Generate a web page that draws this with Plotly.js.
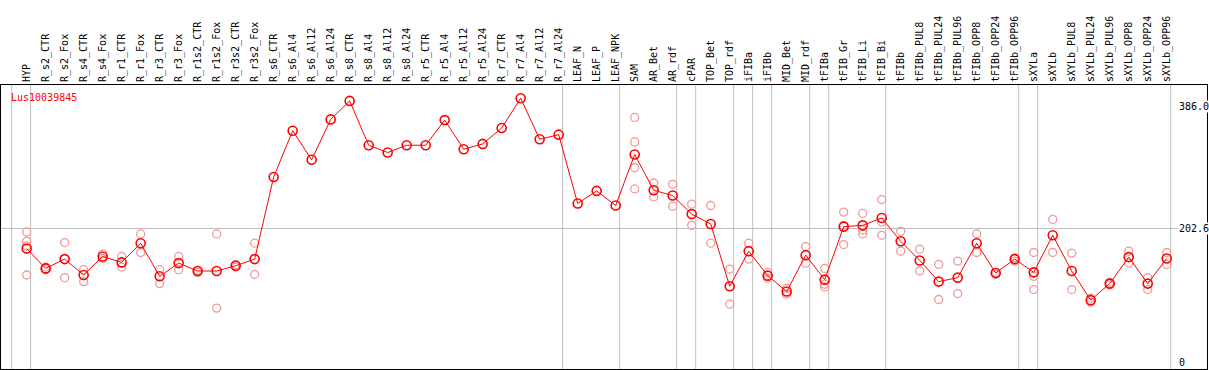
<!DOCTYPE html>
<html>
<head>
<meta charset="utf-8">
<script src="https://cdn.plot.ly/plotly-3.0.1.min.js"></script>
<style>html,body{margin:0;padding:0;background:#fff;}#chart{width:1209px;height:370px;}</style>
</head>
<body>
<div id="chart"></div>
<script>
const categories = ["HYP","R_s2_CTR","R_s2_Fox","R_s4_CTR","R_s4_Fox","R_r1_CTR","R_r1_Fox","R_r3_CTR","R_r3_Fox","R_r1s2_CTR","R_r1s2_Fox","R_r3s2_CTR","R_r3s2_Fox","R_s6_CTR","R_s6_Al4","R_s6_Al12","R_s6_Al24","R_s8_CTR","R_s8_Al4","R_s8_Al12","R_s8_Al24","R_r5_CTR","R_r5_Al4","R_r5_Al12","R_r5_Al24","R_r7_CTR","R_r7_Al4","R_r7_Al12","R_r7_Al24","LEAF_N","LEAF_P","LEAF_NPK","SAM","AR_Bet","AR_rdf","cPAR","TOP_Bet","TOP_rdf","iFIBa","iFIBb","MID_Bet","MID_rdf","tFIBa","tFIB_Gr","tFIB_Li","tFIB_Bi","tFIBb","tFIBb_PUL8","tFIBb_PUL24","tFIBb_PUL96","tFIBb_OPP8","tFIBb_OPP24","tFIBb_OPP96","sXYLa","sXYLb","sXYLb_PUL8","sXYLb_PUL24","sXYLb_PUL96","sXYLb_OPP8","sXYLb_OPP24","sXYLb_OPP96"];

const meanValues = [172,142,156,132,160,151,180,130,150,138,138,146,156,280,350,306,367,395,328,317,328,328,366,322,330,354,399,337,344,240,259,237,314,260,252,224,209,115,168,131,107,162,125,205,207,218,183,154,122,128,180,135,156,136,192,138,94,119,159,119,157];

const repA = [197,144,181,140,164,160,194,140,160,139,194,148,180,null,null,null,null,null,null,null,null,null,null,null,null,null,null,null,null,null,null,null,370,271,269,239,237,141,180,136,112,175,142,227,225,246,198,171,148,153,194,136,158,166,216,165,97,121,168,128,166];
const repB = [183,140,128,122,157,144,166,119,140,136,82,144,133,null,null,null,null,null,null,null,null,null,null,null,null,null,null,null,null,null,null,null,333,250,236,207,180,88,156,127,103,150,118,178,200,212,168,138,95,104,166,133,153,130,166,110,91,117,150,110,148];
const repC = [132,null,null,null,null,null,null,null,null,null,null,null,null,null,null,null,null,null,null,null,null,null,null,null,null,null,null,null,null,null,null,null,294,null,null,null,null,null,null,null,null,null,114,207,194,192,null,null,null,null,null,null,null,110,null,null,null,null,null,null,null];
const repD = [176,null,null,null,null,null,null,null,null,null,null,null,null,null,null,null,null,null,null,null,null,null,null,null,null,null,null,null,null,null,null,null,262,null,null,null,null,null,null,null,null,null,null,null,null,null,null,null,null,null,null,null,null,null,null,null,null,null,null,null,null];

const groupBreaks = [-1,0,28,31,34,35,37,38,39,41,42,45,52,53,60];
const yTickVals = [0,202.6,386.0];
const yTickText = ["0","202.6","386.0"];
const geneName = "Lus10039845";

const idx = categories.map((_, i) => i);
const repX = [], repY = [];
[repA, repB, repC, repD].forEach(arr => arr.forEach((v, i) => { if (v !== null) { repX.push(i); repY.push(v); } }));

const FONT = "DejaVu Sans Mono, Liberation Mono, monospace";

const traces = [
  {x: repX, y: repY, type: "scatter", mode: "markers", hoverinfo: "skip",
   marker: {symbol: "circle-open", size: 8, color: "#ee9a9a", line: {width: 1.3, color: "#ee9a9a"}}},
  {x: idx, y: meanValues, type: "scatter", mode: "lines+markers",
   line: {color: "#ff0000", width: 1},
   marker: {symbol: "circle-open", size: 9, color: "#ff0000", line: {width: 1.6, color: "#ff0000"}}}
];

const shapes = groupBreaks.map(b => ({type: "line", xref: "x", yref: "paper", x0: b + 0.21, x1: b + 0.21, y0: 0, y1: 1, line: {color: "#c0c0c0", width: 1}, layer: "below"}));

const annotations = yTickVals.map((v, k) => ({xref: "paper", yref: "y", x: (1178 - 1) / 1206, y: v, xanchor: "left", yanchor: "middle", showarrow: false, text: yTickText[k], font: {family: FONT, size: 10, color: "#000"}, bgcolor: "#ffffff", borderpad: 0}));
annotations.push({xref: "paper", yref: "paper", x: 8 / 1206, y: (369 - 97) / 284, xanchor: "left", yanchor: "middle", showarrow: false, text: geneName, font: {family: FONT, size: 10, color: "#ff0000"}});

const layout = {
  width: 1209, height: 370,
  margin: {l: 1, r: 2, t: 85, b: 1, pad: 0},
  paper_bgcolor: "#ffffff", plot_bgcolor: "#ffffff",
  showlegend: false,
  xaxis: {range: [-1.35, 62.12], side: "top", tickmode: "array", tickvals: idx, ticktext: categories,
          tickangle: -90, tickfont: {family: FONT, size: 10, color: "#000"}, ticks: "", showgrid: false, zeroline: false,
          showline: true, mirror: true, linecolor: "#000", linewidth: 1, fixedrange: true},
  yaxis: {range: [-10, 419], tickmode: "array", tickvals: [202.6], showticklabels: false, ticks: "",
          showgrid: true, gridcolor: "#c0c0c0", gridwidth: 1, zeroline: false,
          showline: true, mirror: true, linecolor: "#000", linewidth: 1, fixedrange: true},
  shapes: shapes,
  annotations: annotations
};

Plotly.newPlot("chart", traces, layout, {displayModeBar: false, staticPlot: true});
</script>
</body>
</html>
